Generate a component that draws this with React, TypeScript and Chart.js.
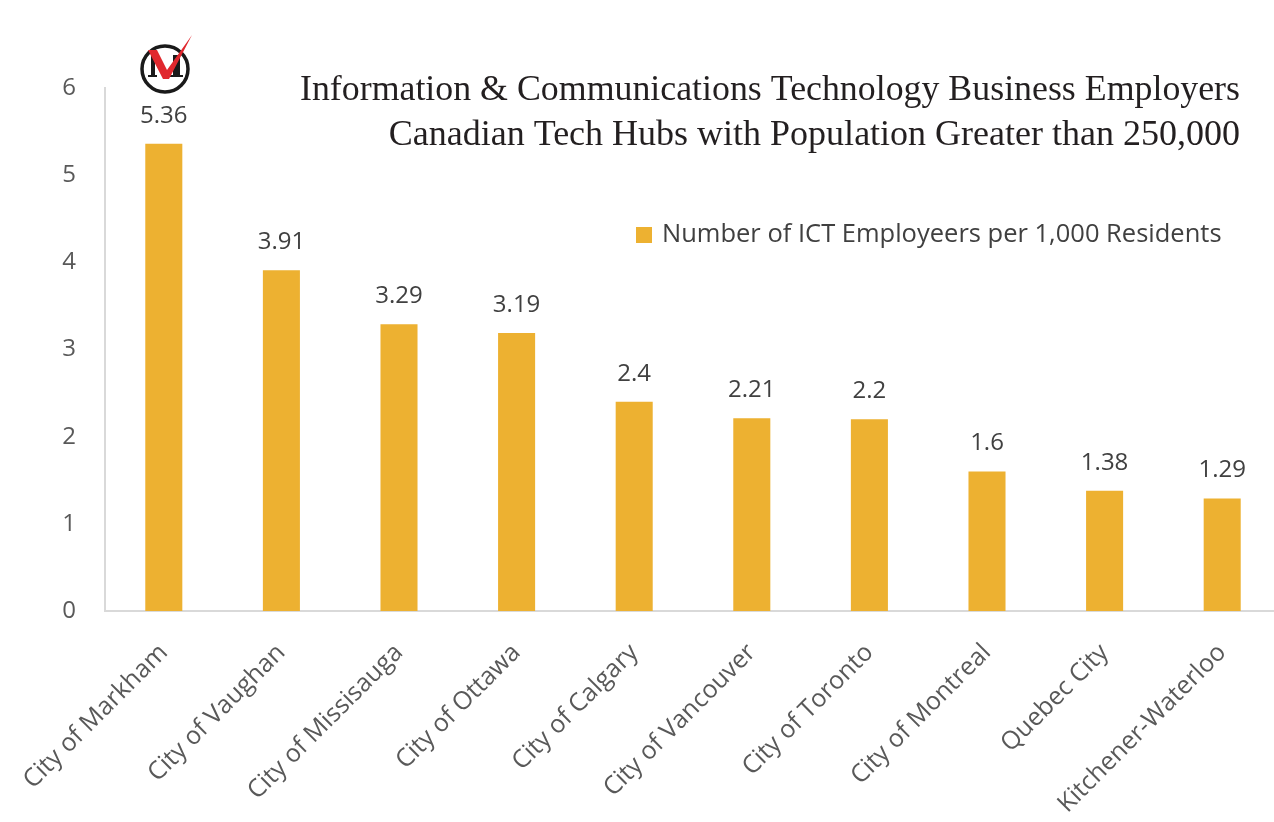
import React, { useEffect, useRef } from "react";
import { Chart, registerables } from "chart.js";

Chart.register(...registerables);

const categories = [
  "City of Markham",
  "City of Vaughan",
  "City of Missisauga",
  "City of Ottawa",
  "City of Calgary",
  "City of Vancouver",
  "City of Toronto",
  "City of Montreal",
  "Quebec City",
  "Kitchener-Waterloo",
];
const employersPer1000 = [5.36, 3.91, 3.29, 3.19, 2.4, 2.21, 2.2, 1.6, 1.38, 1.29];
const seriesLabel = "Number of ICT Employeers per 1,000 Residents";
const titleLines = [
  "Information & Communications Technology Business Employers",
  "Canadian Tech Hubs with Population Greater than 250,000",
];
const yTicks = [0, 1, 2, 3, 4, 5, 6];

const BAR = "#EDB131";
const TEXT = "#595959";
const SANS = "'Open Sans', 'Noto Sans', sans-serif";

const overlayPlugin = {
  id: "overlay",
  afterDatasetsDraw(chart: any) {
    const ctx = chart.ctx as CanvasRenderingContext2D;
    const meta = chart.getDatasetMeta(0);
    ctx.save();
    ctx.fillStyle = "#404040";
    ctx.font = `24px ${SANS}`;
    ctx.textAlign = "center";
    ctx.textBaseline = "middle";
    meta.data.forEach((el: any, i: number) => {
      const v = chart.data.datasets[0].data[i];
      ctx.fillText(String(v), el.x, el.y - 28);
    });
    ctx.restore();
  },
  afterDraw(chart: any) {
    const ctx = chart.ctx as CanvasRenderingContext2D;
    ctx.save();
    // Title
    ctx.fillStyle = "#231F20";
    ctx.font = `36px 'Liberation Serif', 'DejaVu Serif', serif`;
    ctx.textAlign = "right";
    ctx.textBaseline = "alphabetic";
    ctx.fillText(titleLines[0], 1240, 100, 940);
    ctx.fillText(titleLines[1], 1240, 145, 880);

    // Legend
    ctx.fillStyle = BAR;
    ctx.fillRect(636, 227, 16, 16);
    ctx.fillStyle = "#404040";
    ctx.font = `25.5px ${SANS}`;
    ctx.textAlign = "left";
    ctx.textBaseline = "middle";
    ctx.fillText(seriesLabel, 662, 235);

    // Logo
    const cx = 165, cy = 69, r = 23;
    ctx.beginPath();
    ctx.arc(cx, cy, r, 0, Math.PI * 2);
    ctx.lineWidth = 3.5;
    ctx.strokeStyle = "#1a1a1a";
    ctx.stroke();
    ctx.fillStyle = "#1a1a1a";
    ctx.fillRect(151, 54, 4, 23);
    ctx.fillRect(148, 75, 9, 2);
    ctx.fillRect(173, 55, 7, 22);
    ctx.fillRect(170, 75, 13, 2);
    ctx.fillStyle = "#E0282E";
    ctx.beginPath();
    ctx.moveTo(148, 50);
    ctx.lineTo(157, 50);
    ctx.lineTo(167, 70);
    ctx.lineTo(192, 35);
    ctx.lineTo(169, 79);
    ctx.lineTo(163, 79);
    ctx.closePath();
    ctx.fill();
    ctx.restore();
  },
};

export default function App() {
  const ref = useRef<HTMLCanvasElement | null>(null);
  useEffect(() => {
    if (!ref.current) return;
    const chart = new Chart(ref.current, {
      type: "bar",
      data: {
        labels: categories,
        datasets: [
          {
            label: seriesLabel,
            data: employersPer1000,
            backgroundColor: BAR,
            barPercentage: 0.315,
            categoryPercentage: 1,
          },
        ],
      },
      options: {
        animation: false,
        responsive: false,
        layout: { padding: { top: 88, left: 0, right: 0, bottom: 0 } },
        plugins: {
          legend: { display: false },
          title: { display: false },
          tooltip: { enabled: false },
        },
        scales: {
          x: {
            grid: { display: false, drawTicks: false },
            border: { display: true, color: "#D9D9D9", width: 2 },
            ticks: {
              color: TEXT,
              font: { family: SANS, size: 25 },
              maxRotation: 45,
              minRotation: 45,
              autoSkip: false,
              padding: 27,
            },
            afterFit(scale: any) {
              scale.height = 211;
              scale.paddingLeft = 0;
              scale.paddingRight = 0;
            },
          },
          y: {
            min: 0,
            max: 6,
            afterBuildTicks(scale: any) {
              scale.ticks = yTicks.map((v) => ({ value: v }));
            },
            grid: { display: false, drawTicks: false },
            border: { display: true, color: "#D9D9D9", width: 2 },
            ticks: {
              color: TEXT,
              font: { family: SANS, size: 24 },
              padding: 29,
            },
            afterFit(scale: any) {
              scale.width = 105;
            },
          },
        },
      },
      plugins: [overlayPlugin],
    });
    return () => chart.destroy();
  }, []);
  return (
    <div
      style={{
        position: "fixed",
        left: 0,
        top: 0,
        width: 1274,
        height: 822,
        overflow: "hidden",
        background: "#fff",
      }}
    >
      <canvas ref={ref} width={1281} height={822} style={{ display: "block" }} />
    </div>
  );
}
